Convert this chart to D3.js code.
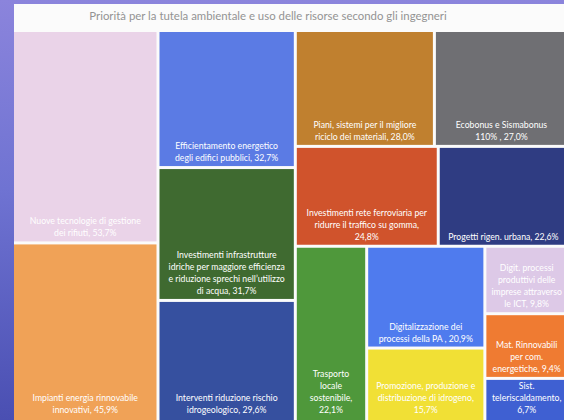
<!DOCTYPE html>
<html>
<head>
<meta charset="utf-8">
<script src="https://cdn.jsdelivr.net/npm/d3@7"></script>
<style>
  body { margin: 0; background: #fff; }
  svg { display: block; }
</style>
</head>
<body>
<svg id="chart" width="564" height="420"></svg>
<script>
// tiles, largest first (same order as the reference layout)
var labels = [
    'Nuove tecnologie di gestione\ndei rifiuti, 53,7%',
    'Impianti energia rinnovabile\ninnovativi, 45,9%',
    'Efficientamento energetico\ndegli edifici pubblici, 32,7%',
    'Investimenti infrastrutture\nidriche per maggiore efficienza\ne riduzione sprechi nell\u2019utilizzo\ndi acqua, 31,7%',
    'Interventi riduzione rischio\nidrogeologico, 29,6%',
    'Piani, sistemi per il migliore\nriciclo dei materiali, 28,0%',
    'Ecobonus e Sismabonus\n110% , 27,0%',
    'Investimenti rete ferroviaria per\nridurre il traffico su gomma,\n24,8%',
    'Progetti rigen. urbana, 22,6%',
    'Trasporto\nlocale\nsostenibile,\n22,1%',
    'Digitalizzazione dei\nprocessi della PA , 20,9%',
    'Promozione, produzione e\ndistribuzione di idrogeno,\n15,7%',
    'Digit. processi\nproduttivi delle\nimprese attraverso\nle ICT, 9,8%',
    'Mat. Rinnovabili\nper com.\nenergetiche, 9,4%',
    'Sist.\nteleriscaldamento,\n6,7%'
];
var values = [53.7, 45.9, 32.7, 31.7, 29.6, 28.0, 27.0, 24.8, 22.6, 22.1, 20.9, 15.7, 9.8, 9.4, 6.7];
var colors = ['#ead3e8', '#f0a257', '#5b7be4', '#3f6a30', '#36509f', '#c0802f', '#6f6f73',
              '#d0532c', '#2f3c82', '#4f983b', '#4f7bee', '#f1e035', '#ddc9e7', '#ef7b32', '#3f60d2'];
// how many tiles go in each strip of the layout
var rowSizes = [2, 3, 2, 2, 1, 2, 1, 1, 1];

var svg = d3.select('#chart');

// photo background: bluish frame on the left and top
var grad = svg.append('defs').append('linearGradient')
    .attr('id', 'frame').attr('x1', 0).attr('y1', 0).attr('x2', 0).attr('y2', 1);
grad.append('stop').attr('offset', '0%').attr('stop-color', '#8b84dc');
grad.append('stop').attr('offset', '45%').attr('stop-color', '#6f73d2');
grad.append('stop').attr('offset', '100%').attr('stop-color', '#4a4fb2');
svg.append('rect').attr('width', 564).attr('height', 420).attr('fill', 'url(#frame)');
svg.append('rect').attr('x', 14).attr('y', 4).attr('width', 550).attr('height', 416).attr('fill', '#fbfbfb');

svg.append('text')
    .attr('x', 268).attr('y', 20)
    .attr('text-anchor', 'middle')
    .style('font-family', 'Lato, sans-serif')
    .style('font-size', '11.4px')
    .style('fill', '#939393')
    .text('Priorità per la tutela ambientale e uso delle risorse secondo gli ingegneri');

// strips laid out like a squarified treemap, but with fixed strip sizes
function stripTile(parent, x0, y0, x1, y1) {
    var nodes = parent.children, value = parent.value, i0 = 0;
    rowSizes.forEach(function(k) {
        var kids = nodes.slice(i0, i0 + k);
        var row = {value: d3.sum(kids, function(d) { return d.value; }), children: kids};
        var dx = x1 - x0, dy = y1 - y0;
        if (dx < dy) d3.treemapDice(row, x0, y0, x1, y0 += dy * row.value / value);
        else d3.treemapSlice(row, x0, y0, x0 += dx * row.value / value, y1);
        value -= row.value;
        i0 += k;
    });
}

var data = {children: values.map(function(v, i) { return {name: labels[i], value: v, color: colors[i]}; })};
var root = d3.hierarchy(data).sum(function(d) { return d.value || 0; });

d3.treemap()
    .tile(stripTile)
    .size([553, 391])
    .paddingInner(3)(root);

var chartG = svg.append('g')
    .attr('transform', 'translate(' + [14, 32] + ')');

var cell = chartG.selectAll('.cell')
    .data(root.leaves())
    .enter()
    .append('g')
    .attr('class', 'cell');

cell.append('rect')
    .attr('x', function(d) { return d.x0; })
    .attr('y', function(d) { return d.y0; })
    .attr('width', function(d) { return d.x1 - d.x0; })
    .attr('height', function(d) { return d.y1 - d.y0; })
    .attr('fill', function(d) { return d.data.color; });

var lineH = 12;
cell.append('text')
    .attr('text-anchor', 'middle')
    .style('font-family', 'Lato, sans-serif')
    .style('font-size', '8.7px')
    .style('fill', '#fff')
    .each(function(d) {
        var lines = d.data.name.split('\n');
        var cx = (d.x0 + d.x1) / 2;
        var yb = Math.min(d.y1, 386) - 5 - (lines.length - 1) * lineH;
        d3.select(this).selectAll('tspan')
            .data(lines)
            .enter()
            .append('tspan')
            .attr('x', cx)
            .attr('y', function(t, i) { return yb + i * lineH; })
            .text(function(t) { return t; });
    });
</script>
</body>
</html>
